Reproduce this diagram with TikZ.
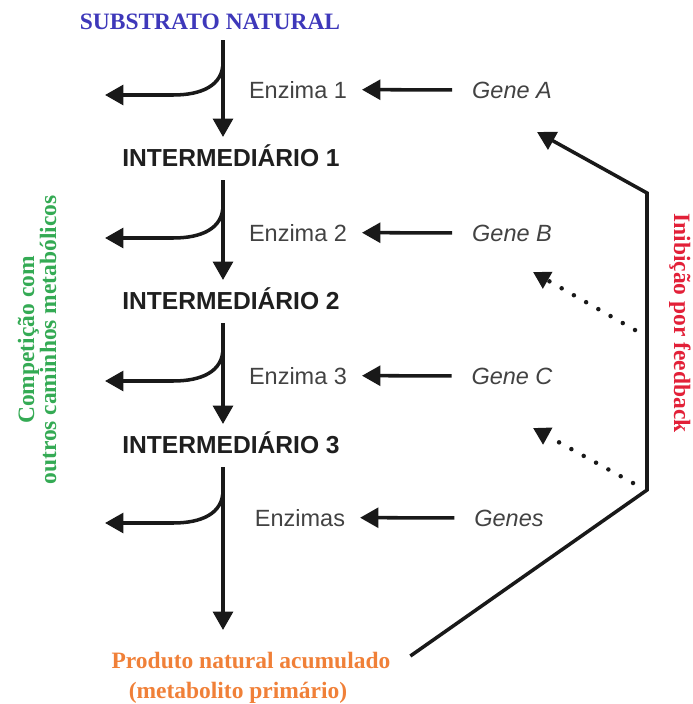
\documentclass[tikz,border=0pt]{standalone}
\usepackage{fontspec}
\setmainfont{Liberation Serif}
\setsansfont{Liberation Sans}
\usetikzlibrary{arrows.meta,calc}
\definecolor{subblue}{RGB}{62,56,186}
\definecolor{prodorange}{RGB}{240,128,56}
\definecolor{compgreen}{RGB}{52,170,84}
\definecolor{fbred}{RGB}{226,32,56}
\definecolor{txtgray}{RGB}{66,66,66}
\definecolor{linegray}{RGB}{25,25,25}

\begin{document}
\begin{tikzpicture}[x=0.025cm,y=-0.025cm,
    flow/.style={draw=linegray,line width=2.5pt,-{Triangle[width=14pt,length=13pt]}},
    fbdots/.style={draw=linegray,line width=3.2pt,line cap=round,dash pattern=on 0pt off 10pt,-{Triangle[width=13pt,length=12pt]}},
    label/.style={anchor=base,font=\fontsize{16.7}{18}\selectfont\bfseries},
    inter/.style={anchor=base,text=black!88,font=\sffamily\fontsize{17.5}{20}\selectfont\bfseries},
    enzyme/.style={anchor=base,inner xsep=10.5pt,text=txtgray,font=\sffamily\fontsize{16.7}{20}\selectfont},
    gene/.style={enzyme,inner xsep=14pt,font=\sffamily\fontsize{16.7}{20}\selectfont\itshape}]
  \useasboundingbox (0,0) rectangle (692,704);
  % Substrate, intermediates and product
  \node[label,text=subblue] (sub) at (210,29) {SUBSTRATO NATURAL};
  \node[inter] (int1) at (231,166) {INTERMEDIÁRIO 1};
  \node[inter] (int2) at (231,309) {INTERMEDIÁRIO 2};
  \node[inter] (int3) at (231,453) {INTERMEDIÁRIO 3};
  \node[label,text=prodorange] (prod) at (251,668) {Produto natural acumulado};
  \node[label,text=prodorange] (metab) at (238,698) {(metabolito primário)};
  \coordinate (axis) at (223,0);
  % Enzymes and genes
  \node[enzyme] (enz1) at (298,98) {Enzima 1};
  \node[enzyme] (enz2) at (298,241) {Enzima 2};
  \node[enzyme] (enz3) at (298,384) {Enzima 3};
  \node[enzyme] (enz4) at (300,526) {Enzimas};
  \node[gene] (geneA) at (512,98) {Gene A};
  \node[gene] (geneB) at (512,241) {Gene B};
  \node[gene] (geneC) at (512,384) {Gene C};
  \node[gene] (genes) at (509,526) {Genes};
  % Main pathway
  \draw[flow] ($(sub.base -| axis)+(0,11)$) -- ($(int1.base -| axis)+(0,-29)$);
  \draw[flow] ($(int1.base -| axis)+(0,14)$) -- ($(int2.base -| axis)+(0,-29)$);
  \draw[flow] ($(int2.base -| axis)+(0,14)$) -- ($(int3.base -| axis)+(0,-29)$);
  \draw[flow] ($(int3.base -| axis)+(0,14)$) -- ($(prod.base -| axis)+(0,-38)$);
  % Side branches
  \foreach \r in {1,...,4}
    \draw[flow] ($(enz\r.base -| axis)+(0,-36)$) .. controls +(0,24) and +(28,0) .. ++(-50,33) -- ++(-68,0);
  \foreach \r/\g in {1/geneA,2/geneB,3/geneC,4/genes}
    \draw[flow] (\g) -- (enz\r);
  % Feedback
  \coordinate (fbbot) at (647,490);
  \coordinate (fbtop) at (647,193);
  \coordinate (tipA) at (537,132);
  \coordinate (dotB) at (635,330);
  \coordinate (tipB) at (533,272);
  \coordinate (dotC) at (633,483);
  \coordinate (tipC) at (533,428);
  \draw[flow] ($(prod.base east)+(15,-12)$) -- (fbbot) -- (fbtop) -- (tipA);
  \draw[fbdots] (dotB) -- (tipB);
  \draw[fbdots] (dotC) -- (tipC);
  % Side labels
  \node[label,anchor=center,text=compgreen,rotate=90,align=center,font=\fontsize{16.7}{15.6}\selectfont\bfseries] (comp) at (37,340) {Competição com\\outros caminhos metabólicos};
  \node[label,anchor=center,text=fbred,rotate=-90] (inib) at (680,323) {Inibição por feedback};
\end{tikzpicture}
\end{document}
